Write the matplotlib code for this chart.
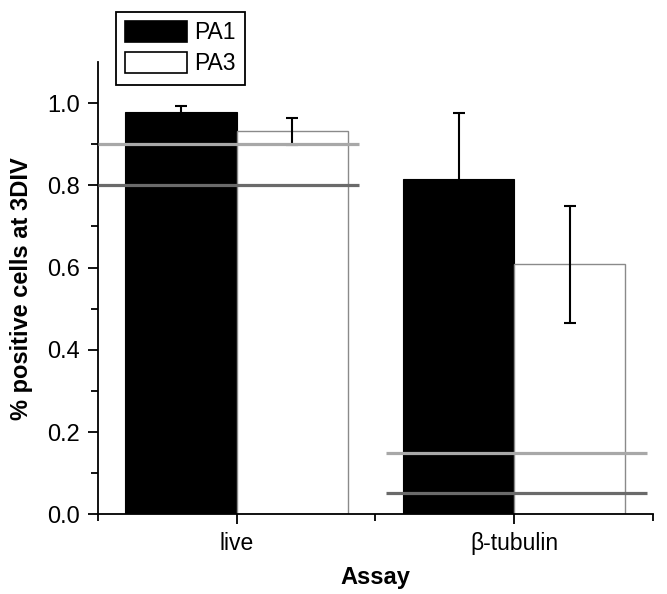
import matplotlib
matplotlib.use("Agg")
import matplotlib.pyplot as plt
from matplotlib.patches import Patch
import numpy as np

plt.rcParams['font.family'] = ['Liberation Sans', 'DejaVu Sans']

categories = ["live", "\u03b2-tubulin"]
series_names = ["PA1", "PA3"]
pa1_values = [0.978, 0.815]
pa1_errors = [0.014, 0.162]
pa3_values = [0.931, 0.608]
pa3_errors = [0.033, 0.143]
# reference lines per category: (light level, dark level)
light_levels = [0.90, 0.150]
dark_levels = [0.80, 0.0525]
line_spans = [(-0.5, 0.44), (0.54, 1.48)]

fig = plt.figure(figsize=(6.67, 5.94), dpi=100)
ax = fig.add_axes([97.7/667, 1-514.3/594, (653-97.7)/667, (514.3-62)/594])

x = np.arange(len(categories))
w = 0.4
ax.bar(x - w/2, pa1_values, w, color='black', edgecolor='black', linewidth=0.8, zorder=2)
ax.bar(x + w/2, pa3_values, w, color='white', edgecolor='#8a8a8a', linewidth=1.0, zorder=2)
ax.errorbar(x - w/2, pa1_values, yerr=pa1_errors, fmt='none', ecolor='black',
            elinewidth=1.5, capsize=4, capthick=1.5, zorder=3)
ax.errorbar(x + w/2, pa3_values, yerr=pa3_errors, fmt='none', ecolor='black',
            elinewidth=1.5, capsize=4, capthick=1.5, zorder=3)

for (x0, x1), lv, dv in zip(line_spans, light_levels, dark_levels):
    ax.plot([x0, x1], [lv, lv], color='#a8a8a8', linewidth=2.3, zorder=4, solid_capstyle='butt')
    ax.plot([x0, x1], [dv, dv], color='#6a6a6a', linewidth=2.3, zorder=4, solid_capstyle='butt')

ax.set_xlim(-0.5, 1.5)
ax.set_ylim(0, 1.1)
ax.spines['top'].set_visible(False)
ax.spines['right'].set_visible(False)
for s in ['left', 'bottom']:
    ax.spines[s].set_linewidth(1.3)

ax.set_yticks([0.0, 0.2, 0.4, 0.6, 0.8, 1.0])
ax.set_yticklabels(["0.0", "0.2", "0.4", "0.6", "0.8", "1.0"])
ax.set_yticks(np.arange(0.1, 1.1, 0.2), minor=True)
ax.set_xticks(x)
ax.set_xticklabels(categories)
ax.set_xticks([-0.5, 0.5, 1.5], minor=True)
ax.tick_params(axis='both', which='major', direction='out', length=7, width=1.3,
               labelsize=16.5, pad=6)
ax.tick_params(axis='y', which='major', labelsize=17)
ax.tick_params(axis='both', which='minor', direction='out', length=5, width=1.3)

ax.set_xlabel("Assay", fontsize=17, fontweight='bold', labelpad=8)
ax.set_ylabel("% positive cells at 3DIV", fontsize=17, fontweight='bold', labelpad=10)

handles = [Patch(facecolor='black', edgecolor='black', linewidth=1.2),
           Patch(facecolor='white', edgecolor='black', linewidth=1.2)]
leg = fig.legend(handles, series_names, loc='upper left',
                 bbox_to_anchor=(116/667, 1-12/594), borderaxespad=0,
                 fontsize=16.5, frameon=True, fancybox=False, framealpha=1,
                 edgecolor='black', handlelength=2.7, handleheight=1.0,
                 handletextpad=0.3, borderpad=0.4, labelspacing=0.35)
leg.get_frame().set_linewidth(1.3)

fig.savefig("out.png", dpi=100)
